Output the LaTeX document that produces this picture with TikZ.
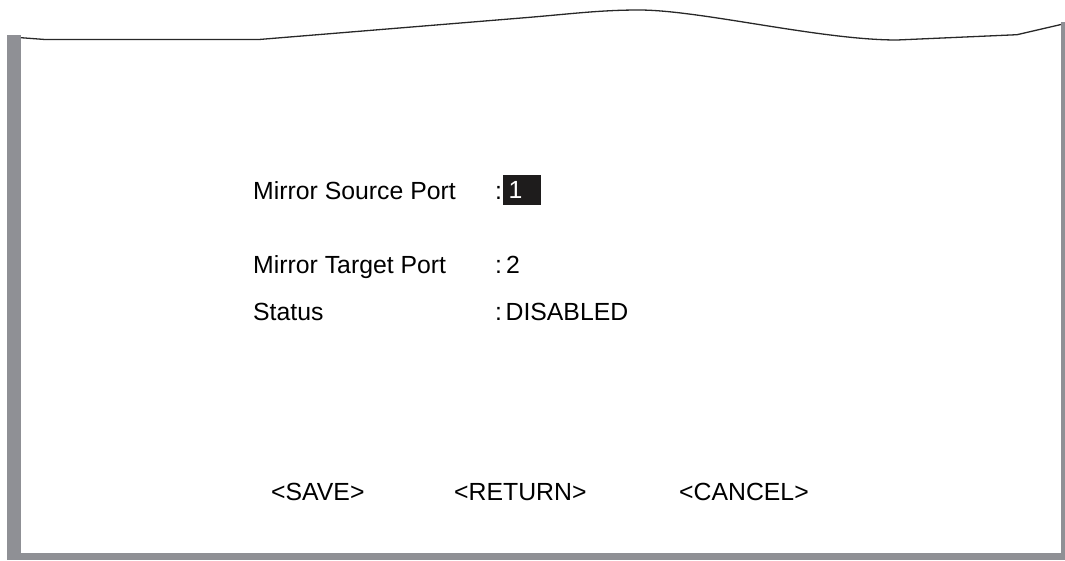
\documentclass[tikz,border=0pt]{standalone}
\usepackage{fontspec}
\setmainfont{Liberation Sans}
\definecolor{framegray}{RGB}{143,144,149}
\definecolor{edgeink}{RGB}{40,40,40}
\definecolor{fieldbg}{RGB}{30,28,28}
\begin{document}
\begin{tikzpicture}[x=1pt,y=-1pt,
  label/.style={anchor=base west,inner sep=0pt,text=black,
    font=\fontsize{24.8}{28}\selectfont},
  fieldtext/.style={label,text=white},
  tornedge/.style={draw=edgeink,line width=1.3pt,line join=round}]
\useasboundingbox (0,0) rectangle (1065,560);
% shaded sheet border: left, bottom and right
\fill[framegray] (7,35) rectangle (21,560);
\fill[framegray] (7,553) rectangle (1065,560);
\fill[framegray] (1061,22) rectangle (1065,560);
% torn upper edge of the sheet
\draw[tornedge] (21,37.7) -- (45,39.5) -- (259,39.5)
  -- (525,17.7) .. controls (570,14) and (600,10) .. (639,10)
  .. controls (700,10) and (820,40) .. (897,40)
  -- (1017,34.7) -- (1061,24.5);
% selected value field
\fill[fieldbg] (503,175) rectangle (541,205);
% labels
\node[label] (srcl) at (253,199) {Mirror Source Port};
\node[label] (srcc) at (495,199) {:};
\node[fieldtext] (srcv) at (508.5,198) {1};
\node[label] (tgtl) at (253,273) {Mirror Target Port};
\node[label] (tgtv) at (495,273) {:\kern4pt2};
\node[label] (stl) at (253,320) {Status};
\node[label] (stv) at (495,320) {:\kern3.5pt DISABLED};
% action buttons
\node[label] (save) at (271,500) {<SAVE>};
\node[label] (ret) at (454,500) {<RETURN>};
\node[label] (cancel) at (679,500) {<CANCEL>};
\end{tikzpicture}
\end{document}
